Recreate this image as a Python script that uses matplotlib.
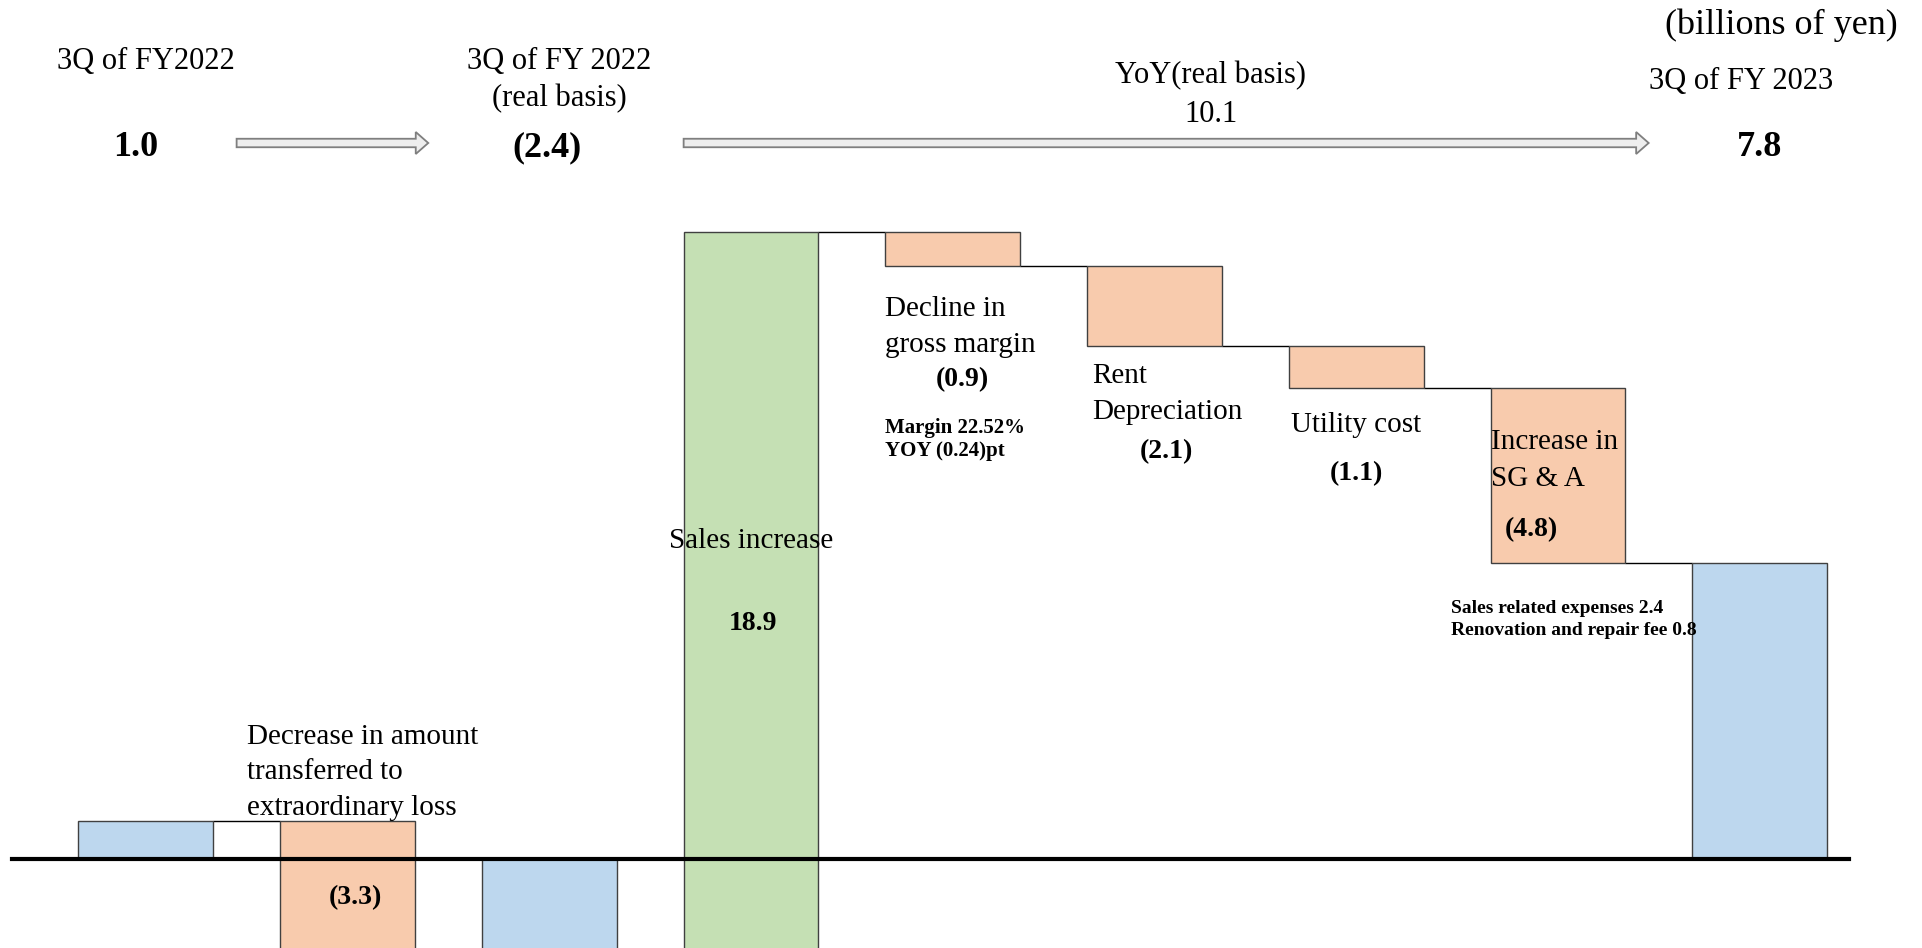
import matplotlib
matplotlib.use("Agg")
import matplotlib.pyplot as plt
import matplotlib.patches as mpatches
from matplotlib.transforms import blended_transform_factory

plt.rcParams['font.family'] = ['Liberation Serif', 'DejaVu Serif']

# operating income bridge, billions of yen
steps = ["3Q of FY2022", "Extraordinary loss transfer", "3Q of FY 2022 (real basis)",
         "Sales increase", "Gross margin", "Rent Depreciation", "Utility cost",
         "SG & A", "3Q of FY 2023"]
values = [1.0, -3.3, -2.4, 18.9, -0.9, -2.1, -1.1, -4.8, 7.8]
is_total = [True, False, True, False, False, False, False, False, True]
yoy_real = 10.1

BLUE = '#BDD7EE'
ORANGE = '#F8CBAD'
GREEN = '#C5E0B4'
W = 0.668

# waterfall levels: a delta run ends on the next subtotal
bottoms, heights, colors, levels = [], [], [], []
level = 0.0
for i, v in enumerate(values):
    if is_total[i]:
        start, end = 0.0, v
        colors.append(BLUE)
    else:
        start = level
        end = level + v
        if i + 1 < len(values) and is_total[i + 1]:
            end = values[i + 1]
        colors.append(GREEN if v > 0 else ORANGE)
    bottoms.append(min(start, end))
    heights.append(abs(end - start))
    level = end
    levels.append(level)

x = list(range(len(values)))

fig = plt.figure(figsize=(19.22, 9.48), dpi=100)
ax = fig.add_axes([0, 0, 1, 1])
ax.set_xlim(-0.723, 8.805)
ax.set_ylim(-2.334, 22.61)
ax.axis('off')

ax.bar(x, heights, bottom=bottoms, width=W, color=colors, edgecolor='#404040', linewidth=1.0, zorder=2)
ax.hlines(levels[:-1], [i + W / 2 for i in x[:-1]], [i - W / 2 for i in x[1:]],
          color='black', linewidth=1.0, zorder=1)
ax.axhline(0, xmin=0.006, xmax=0.962, color='black', linewidth=3, zorder=5)


def fmt(v):
    return "({:.1f})".format(-v) if v < 0 else "{:.1f}".format(v)


DY = 0.1  # small nudge so labels sit like the original


def lab(xp, yp, s, **kw):
    ax.text(xp, yp - DY, s, va='center', **kw)


def lines(xp, yp, txt, step, **kw):
    for k, s in enumerate(txt):
        lab(xp, yp - k * step, s, **kw)


# header row
tr = blended_transform_factory(ax.transData, fig.transFigure)
def fy(py):
    return 1 - py / 948

ax.text(0, fy(61), "3Q of FY2022", transform=tr, ha='center', va='center', fontsize=22)
ax.text(-0.05, fy(148), fmt(values[0]), transform=tr, ha='center', va='center', fontsize=26, fontweight='bold')
ax.text(2.05, fy(61), "3Q of FY 2022", transform=tr, ha='center', va='center', fontsize=22)
ax.text(2.05, fy(99), "(real basis)", transform=tr, ha='center', va='center', fontsize=22)
ax.text(1.99, fy(148), fmt(values[2]), transform=tr, ha='center', va='center', fontsize=26, fontweight='bold')
ax.text(5.28, fy(76), "YoY(real basis)", transform=tr, ha='center', va='center', fontsize=22)
ax.text(5.28, fy(114), fmt(yoy_real), transform=tr, ha='center', va='center', fontsize=22)
ax.text(7.91, fy(81), "3Q of FY 2023", transform=tr, ha='center', va='center', fontsize=22)
ax.text(8.0, fy(148), fmt(values[8]), transform=tr, ha='center', va='center', fontsize=26, fontweight='bold')
fig.text(1898 / 1922, fy(25), "(billions of yen)", ha='right', va='center', fontsize=26)

for x0, x1 in [(0.45, 1.40), (3 - W / 2, 7.45)]:
    arr = mpatches.FancyArrow(x0, fy(143), x1 - x0, 0, width=8.5 / 948, head_width=22 / 948,
                              head_length=0.062, length_includes_head=True, transform=tr,
                              facecolor='#eeeeee', edgecolor='#7f7f7f', linewidth=1.3)
    ax.add_patch(arr)

# bar annotations
lines(0.5, 3.33, ["Decrease in amount", "transferred to", "extraordinary loss"], 0.94, ha='left', fontsize=21)
lab(1.04, -0.91, fmt(values[1]), ha='center', fontsize=20, fontweight='bold', zorder=6)

lab(3, 8.48, "Sales increase", ha='center', fontsize=21, zorder=6)
lab(3.01, 6.3, fmt(values[3]), ha='center', fontsize=20, fontweight='bold', zorder=6)

lines(4 - W / 2, 14.58, ["Decline in", "gross margin"], 0.96, ha='left', fontsize=21)
lab(4.05, 12.71, fmt(values[4]), ha='center', fontsize=20, fontweight='bold')
lines(4 - W / 2, 11.45, ["Margin 22.52%", "YOY (0.24)pt"], 0.6, ha='left', fontsize=15, fontweight='bold')

lines(4.69, 12.81, ["Rent", "Depreciation"], 0.95, ha='left', fontsize=21)
lab(5.06, 10.84, fmt(values[5]), ha='center', fontsize=20, fontweight='bold')

lab(6, 11.52, "Utility cost", ha='center', fontsize=21)
lab(6, 10.26, fmt(values[6]), ha='center', fontsize=20, fontweight='bold')

lines(7 - W / 2, 11.07, ["Increase in", "SG & A"], 0.97, ha='left', fontsize=21, zorder=6)
lab(6.87, 8.77, fmt(values[7]), ha='center', fontsize=20, fontweight='bold', zorder=6)
lines(6.47, 6.71, ["Sales related expenses 2.4", "Renovation and repair fee 0.8"], 0.58,
      ha='left', fontsize=14, fontweight='bold')

fig.savefig("out.png", dpi=100)
